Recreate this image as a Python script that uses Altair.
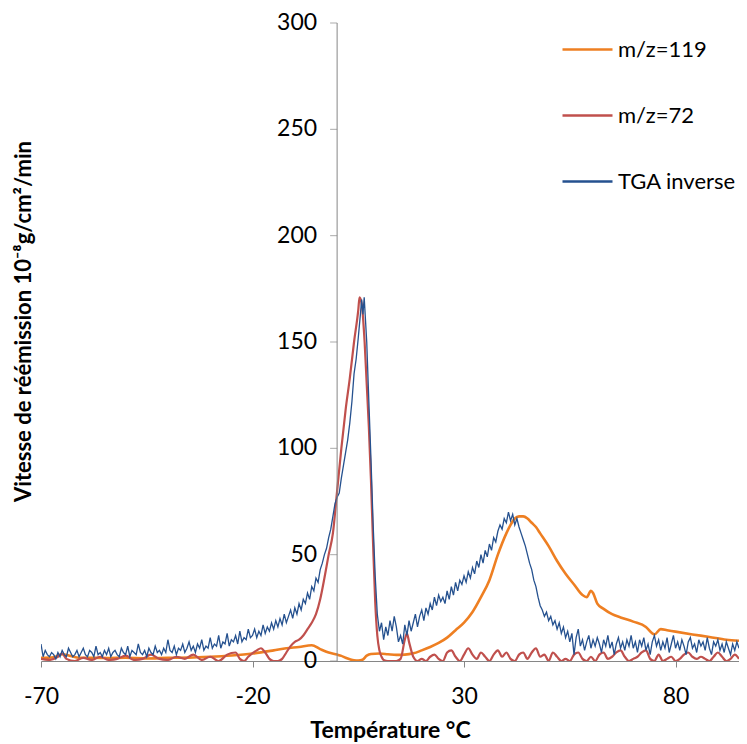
import altair as alt
import pandas as pd

series_names = ["m/z=119", "m/z=72", "TGA inverse"]
series_colors = ["#EE7F22", "#C0504D", "#25518F"]
series_widths = [2.6, 2.2, 1.3]
x_ticks = [-70, -20, 30, 80]
y_ticks = [0, 50, 100, 150, 200, 250, 300]

# (temperature °C, rate)
mz119 = [(-70, 1.5), (-67, 1.8), (-65, 3.2), (-63, 2.4), (-61, 1.5), (-58, 1.5), (-54, 1.4), (-50, 1.5),
         (-45, 1.2), (-40, 1.5), (-35, 1.6), (-30, 2.0), (-25, 2.6), (-20, 3.5), (-15, 5.0), (-12, 6.0),
         (-9, 6.6), (-6, 7.4), (-4, 5.6), (-2, 4.0), (0, 3.0), (1, 2.4), (2, 1.5), (3, 0.8), (4, 0.3),
         (5, 0.2), (6, 0.6), (7, 2.5), (8, 3.3), (10, 3.5), (12, 3.2), (14, 2.9), (16, 3.0), (18, 3.6),
         (20, 5.0), (22, 6.6), (24, 8.5), (26, 11), (28, 14.5), (30, 18), (32, 23), (34, 30), (36, 38),
         (38, 50), (40, 60), (41, 64), (42, 67), (43, 68), (44, 68), (45, 67), (46, 65), (47, 63),
         (48, 60), (50, 54), (52, 47), (54, 41), (56, 36), (58, 31), (59, 30), (60, 33), (60.5, 32),
         (61.5, 27), (63, 24.5), (65, 22), (67, 20.5), (70, 18.5), (73, 16), (74.5, 13), (75, 12.5),
         (76.5, 15), (78, 14.5), (80, 13.8), (84, 12.5), (88, 11.3), (92, 10), (95, 9.5)]

mz72 = [(-70, 1), (-68, 0.5), (-66, 2), (-65, 3.5), (-64, 1), (-62, 0), (-60, 1.5), (-58, 0.5), (-56, 2),
        (-54, 0.5), (-52, 1), (-50, 2.5), (-48, 0.5), (-46, 1), (-44, 3), (-42, 1), (-40, 0.5), (-38, 2),
        (-36, 1), (-34, 3), (-32, 0.5), (-30, 2), (-28, 0), (-26, 3), (-24, 4), (-23, 1), (-22, 0),
        (-21, 2), (-19, 5), (-18, 6), (-17, 4), (-16, 1), (-15, 0), (-14, 0), (-13, 1), (-12, 4),
        (-11, 7), (-10, 9), (-9, 10), (-8, 12), (-7, 15), (-6, 18), (-5, 22), (-4, 29), (-3, 39),
        (-2, 50), (-1, 60), (0, 80), (1, 100), (2, 118), (3, 133), (4, 150), (5, 165), (5.3, 171),
        (5.8, 168), (6.5, 150), (7, 130), (7.5, 110), (8, 85), (8.5, 55), (9, 28), (9.5, 12), (10, 5),
        (10.5, 2), (11, 0.5), (12, 0), (14, 0), (15, 1), (16, 10), (16.5, 13), (17, 9), (18, 2), (19, 0),
        (20, 1), (21, 0), (22, 2), (23, 3), (24, 1), (25, 0), (26, 4), (27, 5), (28, 2), (29, 0), (30, 3),
        (31, 6), (32, 3), (33, 1), (34, 4), (35, 2), (36, 0), (37, 3), (38, 5), (39, 2), (40, 4), (41, 1),
        (42, 0), (43, 3), (44, 4), (45, 1), (46, 4), (47, 6), (48, 2), (49, 3), (50, 0), (51, 4), (52, 2),
        (53, 0), (54, 1), (55, 0), (56, 3), (57, 4), (58, 1), (59, 0), (60, 2), (61, 0), (62, 3), (63, 4),
        (64, 1), (65, 2), (66, 4), (67, 5), (68, 2), (69, 0), (70, 1), (71, 2), (72, 4), (73, 5), (74, 1),
        (75, 0), (76, 3), (77, 0), (78, 1), (79, 2), (80, 0), (81, 1), (82, 3), (83, 4), (84, 2), (85, 1),
        (86, 2), (87, 1), (88, 0), (89, 2), (90, 4), (91, 2), (92, 0), (93, 1), (94, 3), (95, 1)]

tga = [(-70, 8), (-69.5, 2), (-69, 5), (-68.5, 3), (-68, 2), (-67.5, 4), (-67, 3), (-66.5, 1), (-66, 4),
       (-65.5, 2), (-65, 5), (-64.5, 3), (-64, 2), (-63.5, 6), (-63, 4), (-62.5, 2), (-62, 3), (-61.5, 5),
       (-61, 2), (-60.5, 4), (-60, 6), (-59.5, 3), (-59, 2), (-58.5, 5), (-58, 4), (-57.5, 2), (-57, 7),
       (-56.5, 3), (-56, 4), (-55.5, 2), (-55, 5), (-54.5, 3), (-54, 6), (-53.5, 2), (-53, 4), (-52.5, 5),
       (-52, 3), (-51.5, 2), (-51, 6), (-50.5, 4), (-50, 3), (-49.5, 7), (-49, 2), (-48.5, 5), (-48, 4),
       (-47.5, 3), (-47, 8), (-46.5, 4), (-46, 3), (-45.5, 5), (-45, 2), (-44.5, 6), (-44, 4), (-43.5, 3),
       (-43, 7), (-42.5, 4), (-42, 5), (-41.5, 3), (-41, 6), (-40.5, 4), (-40, 10), (-39.5, 5), (-39, 4),
       (-38.5, 7), (-38, 3), (-37.5, 6), (-37, 5), (-36.5, 8), (-36, 4), (-35.5, 6), (-35, 9), (-34.5, 5),
       (-34, 7), (-33.5, 4), (-33, 8), (-32.5, 6), (-32, 10), (-31.5, 5), (-31, 7), (-30.5, 6), (-30, 11),
       (-29.5, 6), (-29, 8), (-28.5, 7), (-28, 12), (-27.5, 6), (-27, 9), (-26.5, 8), (-26, 13), (-25.5, 7),
       (-25, 10), (-24.5, 9), (-24, 12), (-23.5, 8), (-23, 14), (-22.5, 9), (-22, 11), (-21.5, 10),
       (-21, 15), (-20.5, 11),
       (-20, 12), (-19.5, 15), (-19, 11), (-18.5, 14), (-18, 12), (-17.5, 17), (-17, 13), (-16.5, 16),
       (-16, 14), (-15.5, 18), (-15, 15), (-14.5, 19), (-14, 16), (-13.5, 20), (-13, 17), (-12.5, 22),
       (-12, 18), (-11.5, 21), (-11, 24), (-10.5, 20), (-10, 25), (-9.5, 22), (-9, 27), (-8.5, 24),
       (-8, 29), (-7.5, 27), (-7, 32), (-6.5, 29), (-6, 35), (-5.5, 33), (-5, 39), (-4.5, 37), (-4, 43),
       (-3.5, 46), (-3, 50), (-2.5, 53), (-2, 58), (-1.5, 62), (-1, 68), (-0.5, 74), (0, 77), (0.5, 79),
       (1, 86), (1.5, 92), (2, 98), (2.5, 104), (3, 112), (3.5, 122), (4, 135), (4.5, 142), (5, 152),
       (5.5, 163), (5.8, 170), (6.1, 163), (6.4, 171), (7, 150), (7.5, 122), (8, 95), (8.5, 65), (9, 40),
       (9.5, 22), (10, 14), (10.5, 18), (11, 10),
       (11.5, 16), (12, 12), (12.5, 19), (13, 14), (13.5, 21), (14, 16), (14.5, 9), (15, 12), (15.5, 8),
       (16, 17), (16.5, 12), (17, 19), (17.5, 14), (18, 18), (18.5, 22), (19, 16), (19.5, 21), (20, 24),
       (20.5, 19), (21, 25), (21.5, 22), (22, 27), (22.5, 24), (23, 30), (23.5, 26), (24, 31), (24.5, 28),
       (25, 30), (25.5, 27), (26, 33), (26.5, 29), (27, 35), (27.5, 31), (28, 37), (28.5, 33), (29, 38),
       (29.5, 36), (30, 40), (30.5, 37), (31, 42), (31.5, 39), (32, 44), (32.5, 41), (33, 47), (33.5, 44),
       (34, 50), (34.5, 46), (35, 52), (35.5, 49), (36, 55), (36.5, 52), (37, 58), (37.5, 56), (38, 61),
       (38.5, 64), (39, 62), (39.5, 67), (40, 65), (40.5, 70), (41, 66), (41.5, 69), (42, 64), (42.5, 67),
       (43, 63), (43.5, 60), (44, 57), (44.5, 54), (45, 50), (45.5, 46), (46, 43), (46.5, 38), (47, 35),
       (47.5, 30), (48, 26), (48.5, 24), (49, 21), (49.5, 23), (50, 19), (50.5, 21), (51, 17), (51.5, 19),
       (52, 15), (52.5, 18), (53, 13), (53.5, 16), (54, 11), (54.5, 14), (55, 9), (55.5, 13), (56, 3),
       (56.5, 11), (57, 15), (57.5, 7), (58, 10), (58.5, 5), (59, 9), (59.5, 12), (60, 6), (60.5, 10),
       (61, 7), (61.5, 11), (62, 8), (62.5, 4), (63, 10), (63.5, 7), (64, 12), (64.5, 6), (65, 9),
       (65.5, 3), (66, 8), (66.5, 11), (67, 6), (67.5, 9), (68, 5), (68.5, 10), (69, 7), (69.5, 12),
       (70, 6), (70.5, 9), (71, 4), (71.5, 10), (72, 7), (72.5, 11), (73, 5), (73.5, 8), (74, 3),
       (74.5, 9), (75, 12), (75.5, 7), (76, 10), (76.5, 5), (77, 9), (77.5, 6), (78, 11), (78.5, 4),
       (79, 8), (79.5, 12), (80, 6), (80.5, 9), (81, 5), (81.5, 10), (82, 7), (82.5, 3), (83, 9),
       (83.5, 11), (84, 6), (84.5, 8), (85, 4), (85.5, 10), (86, 7), (86.5, 9), (87, 5), (87.5, 11),
       (88, 6), (88.5, 3), (89, 9), (89.5, 7), (90, 10), (90.5, 5), (91, 8), (91.5, 4), (92, 9),
       (92.5, 6), (93, 3), (93.5, 8), (94, 5), (94.5, 9), (95, 6)]


def frame(points, name):
    return pd.DataFrame({"T": [p[0] for p in points],
                         "v": [p[1] for p in points],
                         "serie": name})


df = pd.concat([frame(mz119, series_names[0]),
                frame(mz72, series_names[1]),
                frame(tga, series_names[2])], ignore_index=True)

FONT = "Lato"
GREY = "#868686"

x_scale = alt.Scale(domain=[-70, 95], nice=False, zero=False)
y_scale = alt.Scale(domain=[0, 300], nice=False, zero=True)
color_scale = alt.Scale(domain=series_names, range=series_colors)

x_axis = alt.Axis(values=x_ticks, grid=False, domainColor=GREY, tickColor=GREY, tickSize=6,
                  labelFlush=False, labelExpr="datum.value + ''", labelFont=FONT, labelFontSize=23,
                  labelColor="black", labelPadding=18, title="Température °C", titleFont=FONT,
                  titleFontSize=23, titleFontWeight="bold", titleColor="black", titlePadding=11)
y_axis = alt.Axis(labels=False, ticks=False, domain=False, grid=False,
                  title="Vitesse de réémission 10⁻⁸g/cm²/min", titleFont=FONT, titleFontSize=22,
                  titleFontWeight="bold", titleColor="black", titlePadding=6, titleY=298)
legend = alt.Legend(title=None, orient="none", legendX=520, legendY=0, symbolType="stroke",
                    symbolSize=2500, symbolStrokeWidth=2.5, labelFont=FONT, labelFontSize=22,
                    labelColor="black", rowPadding=28, labelOffset=4, padding=0, labelLimit=400)


def series_layer(i, interp):
    name = series_names[i]
    return alt.Chart(df).transform_filter(alt.datum.serie == name).mark_line(
        strokeWidth=series_widths[i], interpolate=interp, clip=True
    ).encode(
        x=alt.X("T:Q", scale=x_scale, axis=x_axis),
        y=alt.Y("v:Q", scale=y_scale, axis=y_axis),
        color=alt.Color("serie:N", scale=color_scale, legend=legend),
    )


axis_df = pd.DataFrame({"T": [0], "v": [0], "v2": [300]})
tick_df = pd.DataFrame({"T": [0] * len(y_ticks), "v": y_ticks})

y_line = alt.Chart(axis_df).mark_rule(color=GREY, strokeWidth=1).encode(
    x=alt.X("T:Q", scale=x_scale, axis=x_axis),
    y=alt.Y("v:Q", scale=y_scale, axis=y_axis),
    y2="v2:Q",
)
y_tick_marks = alt.Chart(tick_df).mark_tick(orient="horizontal", size=7, thickness=1, color=GREY,
                                            xOffset=-3.5).encode(
    x=alt.X("T:Q", scale=x_scale, axis=x_axis),
    y=alt.Y("v:Q", scale=y_scale, axis=y_axis),
)
y_labels = alt.Chart(tick_df).mark_text(align="right", baseline="middle", dx=-20, font=FONT,
                                        fontSize=23, color="black").encode(
    x=alt.X("T:Q", scale=x_scale, axis=x_axis),
    y=alt.Y("v:Q", scale=y_scale, axis=y_axis),
    text=alt.Text("v:Q"),
)

chart = alt.layer(
    series_layer(0, "monotone"),
    series_layer(1, "monotone"),
    series_layer(2, "linear"),
    y_line, y_tick_marks, y_labels,
).properties(
    width=698, height=638,
    padding={"left": 33, "top": 15, "right": 0, "bottom": 88},
    autosize=alt.AutoSizeParams(type="none"),
    background="white",
).configure_view(stroke=None)

chart.save("out.html", embed_options={"renderer": "svg", "actions": False})
